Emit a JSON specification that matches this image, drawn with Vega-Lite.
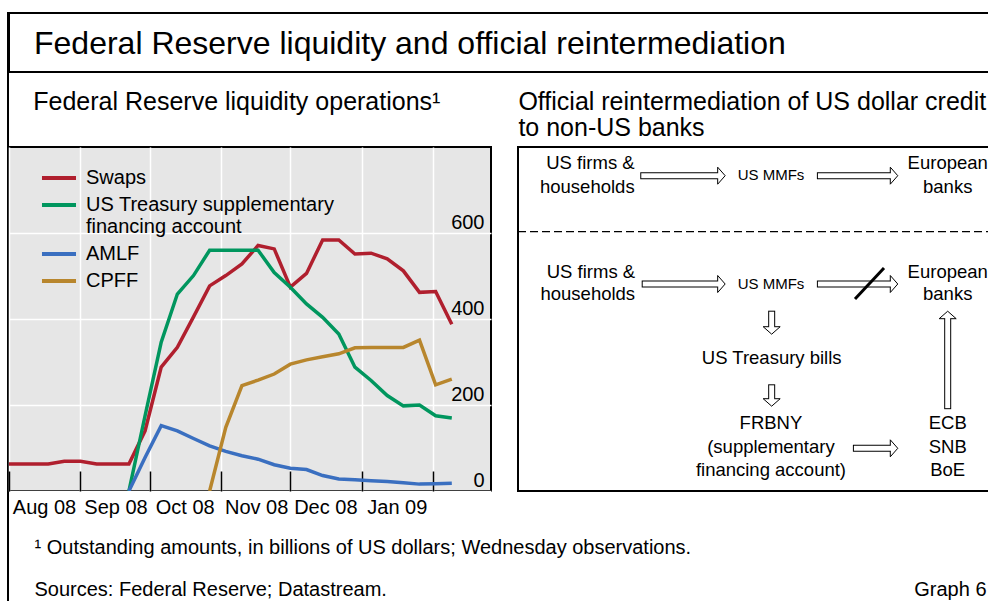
{
  "$schema": "https://vega.github.io/schema/vega-lite/v6.json",
  "padding": {"left": 7, "top": 12, "right": 0, "bottom": 0},
  "background": "white",
  "config": {
    "font": "Liberation Sans",
    "view": {"stroke": "black", "strokeWidth": 2},
    "title": {"fontWeight": "normal", "color": "black", "anchor": "start", "baseline": "alphabetic", "font": "Liberation Sans"},
    "axis": {"labelFont": "Liberation Sans", "labelColor": "black", "titleFont": "Liberation Sans", "titleColor": "black", "titleFontWeight": "normal"},
    "legend": {"labelFont": "Liberation Sans", "labelColor": "black"},
    "text": {"font": "Liberation Sans", "color": "black"}
  },
  "datasets": {
    "blank": [{"t": "", "p": 0}],
    "series": [
      {"date": "2008/07/28", "series": "Swaps", "value": 63},
      {"date": "2008/08/04", "series": "Swaps", "value": 63},
      {"date": "2008/08/11", "series": "Swaps", "value": 63},
      {"date": "2008/08/18", "series": "Swaps", "value": 63},
      {"date": "2008/08/25", "series": "Swaps", "value": 69},
      {"date": "2008/09/01", "series": "Swaps", "value": 69},
      {"date": "2008/09/08", "series": "Swaps", "value": 63},
      {"date": "2008/09/15", "series": "Swaps", "value": 63},
      {"date": "2008/09/22", "series": "Swaps", "value": 63},
      {"date": "2008/09/29", "series": "Swaps", "value": 140},
      {"date": "2008/10/06", "series": "Swaps", "value": 288},
      {"date": "2008/10/13", "series": "Swaps", "value": 334},
      {"date": "2008/10/20", "series": "Swaps", "value": 405},
      {"date": "2008/10/27", "series": "Swaps", "value": 477},
      {"date": "2008/11/03", "series": "Swaps", "value": 501},
      {"date": "2008/11/10", "series": "Swaps", "value": 528},
      {"date": "2008/11/17", "series": "Swaps", "value": 571},
      {"date": "2008/11/24", "series": "Swaps", "value": 563},
      {"date": "2008/12/01", "series": "Swaps", "value": 474},
      {"date": "2008/12/08", "series": "Swaps", "value": 506},
      {"date": "2008/12/15", "series": "Swaps", "value": 584},
      {"date": "2008/12/22", "series": "Swaps", "value": 584},
      {"date": "2008/12/29", "series": "Swaps", "value": 551},
      {"date": "2009/01/05", "series": "Swaps", "value": 553},
      {"date": "2009/01/12", "series": "Swaps", "value": 540},
      {"date": "2009/01/19", "series": "Swaps", "value": 512},
      {"date": "2009/01/26", "series": "Swaps", "value": 462},
      {"date": "2009/02/02", "series": "Swaps", "value": 464},
      {"date": "2009/02/09", "series": "Swaps", "value": 388},
      {"date": "2008/09/22", "series": "US Treasury supplementary financing account", "value": 0},
      {"date": "2008/09/29", "series": "US Treasury supplementary financing account", "value": 175},
      {"date": "2008/10/06", "series": "US Treasury supplementary financing account", "value": 346},
      {"date": "2008/10/13", "series": "US Treasury supplementary financing account", "value": 458},
      {"date": "2008/10/20", "series": "US Treasury supplementary financing account", "value": 501},
      {"date": "2008/10/27", "series": "US Treasury supplementary financing account", "value": 560},
      {"date": "2008/11/03", "series": "US Treasury supplementary financing account", "value": 560},
      {"date": "2008/11/10", "series": "US Treasury supplementary financing account", "value": 560},
      {"date": "2008/11/17", "series": "US Treasury supplementary financing account", "value": 560},
      {"date": "2008/11/24", "series": "US Treasury supplementary financing account", "value": 508},
      {"date": "2008/12/01", "series": "US Treasury supplementary financing account", "value": 474},
      {"date": "2008/12/08", "series": "US Treasury supplementary financing account", "value": 435},
      {"date": "2008/12/15", "series": "US Treasury supplementary financing account", "value": 404},
      {"date": "2008/12/22", "series": "US Treasury supplementary financing account", "value": 365},
      {"date": "2008/12/29", "series": "US Treasury supplementary financing account", "value": 288},
      {"date": "2009/01/05", "series": "US Treasury supplementary financing account", "value": 257},
      {"date": "2009/01/12", "series": "US Treasury supplementary financing account", "value": 222},
      {"date": "2009/01/19", "series": "US Treasury supplementary financing account", "value": 198},
      {"date": "2009/01/26", "series": "US Treasury supplementary financing account", "value": 200},
      {"date": "2009/02/02", "series": "US Treasury supplementary financing account", "value": 175},
      {"date": "2009/02/09", "series": "US Treasury supplementary financing account", "value": 170},
      {"date": "2008/09/22", "series": "AMLF", "value": 0},
      {"date": "2008/09/29", "series": "AMLF", "value": 78},
      {"date": "2008/10/06", "series": "AMLF", "value": 152},
      {"date": "2008/10/13", "series": "AMLF", "value": 140},
      {"date": "2008/10/20", "series": "AMLF", "value": 122},
      {"date": "2008/10/27", "series": "AMLF", "value": 105},
      {"date": "2008/11/03", "series": "AMLF", "value": 92},
      {"date": "2008/11/10", "series": "AMLF", "value": 82},
      {"date": "2008/11/17", "series": "AMLF", "value": 74},
      {"date": "2008/11/24", "series": "AMLF", "value": 61},
      {"date": "2008/12/01", "series": "AMLF", "value": 53},
      {"date": "2008/12/08", "series": "AMLF", "value": 50},
      {"date": "2008/12/15", "series": "AMLF", "value": 36},
      {"date": "2008/12/22", "series": "AMLF", "value": 28},
      {"date": "2008/12/29", "series": "AMLF", "value": 26},
      {"date": "2009/01/05", "series": "AMLF", "value": 24},
      {"date": "2009/01/12", "series": "AMLF", "value": 22},
      {"date": "2009/01/19", "series": "AMLF", "value": 19},
      {"date": "2009/01/26", "series": "AMLF", "value": 16},
      {"date": "2009/02/02", "series": "AMLF", "value": 17},
      {"date": "2009/02/09", "series": "AMLF", "value": 18},
      {"date": "2008/10/27", "series": "CPFF", "value": 0},
      {"date": "2008/11/03", "series": "CPFF", "value": 148},
      {"date": "2008/11/10", "series": "CPFF", "value": 245},
      {"date": "2008/11/17", "series": "CPFF", "value": 258},
      {"date": "2008/11/24", "series": "CPFF", "value": 272},
      {"date": "2008/12/01", "series": "CPFF", "value": 295},
      {"date": "2008/12/08", "series": "CPFF", "value": 305},
      {"date": "2008/12/15", "series": "CPFF", "value": 312},
      {"date": "2008/12/22", "series": "CPFF", "value": 319},
      {"date": "2008/12/29", "series": "CPFF", "value": 333},
      {"date": "2009/01/05", "series": "CPFF", "value": 334},
      {"date": "2009/01/12", "series": "CPFF", "value": 334},
      {"date": "2009/01/19", "series": "CPFF", "value": 334},
      {"date": "2009/01/26", "series": "CPFF", "value": 351},
      {"date": "2009/02/02", "series": "CPFF", "value": 247},
      {"date": "2009/02/09", "series": "CPFF", "value": 260}
    ],
    "arrows": [
      {"tx": 26.2, "ty": 8.34, "bx": 41.6, "by": 8.34, "dir": "right"},
      {"tx": 63.0, "ty": 8.34, "bx": 77.56, "by": 8.34, "dir": "right"},
      {"tx": 26.5, "ty": 39.83, "bx": 41.6, "by": 39.83, "dir": "right"},
      {"tx": 63.0, "ty": 39.83, "bx": 77.56, "by": 39.83, "dir": "right"},
      {"tx": 52.85, "ty": 48.6, "bx": 52.85, "by": 52.24, "dir": "down"},
      {"tx": 52.85, "ty": 70.0, "bx": 52.85, "by": 73.17, "dir": "down"},
      {"tx": 70.5, "ty": 87.59, "bx": 77.56, "by": 87.59, "dir": "right"},
      {"tx": 89.52, "ty": 75.2, "bx": 89.52, "by": 49.91, "dir": "up"}
    ],
    "strokes": [
      {"kind": "slash", "x": 70.21, "y": 44.19, "x2": 76.25, "y2": 35.17},
      {"kind": "divider", "x": 0, "y": 24.62, "x2": 100, "y2": 24.62}
    ],
    "labels": [
      {"role": "right", "text": "US firms &", "x": 24.3, "y": 4.74},
      {"role": "right", "text": "households", "x": 24.3, "y": 11.54},
      {"role": "right", "text": "US firms &", "x": 24.4, "y": 36.25},
      {"role": "right", "text": "households", "x": 24.4, "y": 42.73},
      {"role": "small", "text": "US MMFs", "x": 52.7, "y": 8.14},
      {"role": "small", "text": "US MMFs", "x": 52.7, "y": 39.83},
      {"role": "center", "text": "European", "x": 89.52, "y": 4.74},
      {"role": "center", "text": "banks", "x": 89.52, "y": 11.54},
      {"role": "center", "text": "European", "x": 89.52, "y": 36.25},
      {"role": "center", "text": "banks", "x": 89.52, "y": 42.73},
      {"role": "center", "text": "US Treasury bills", "x": 52.85, "y": 61.42},
      {"role": "center", "text": "FRBNY", "x": 52.7, "y": 80.32},
      {"role": "center", "text": "(supplementary", "x": 52.7, "y": 87.12},
      {"role": "center", "text": "financing account)", "x": 52.7, "y": 93.9},
      {"role": "center", "text": "ECB", "x": 89.52, "y": 80.32},
      {"role": "center", "text": "SNB", "x": 89.52, "y": 87.12},
      {"role": "center", "text": "BoE", "x": 89.52, "y": 93.9}
    ]
  },
  "spacing": 0,
  "bounds": "flush",
  "resolve": {"legend": {"color": "independent"}},
  "hconcat": [
    {
      "width": 0.01,
      "height": 588,
      "data": {"name": "blank"},
      "mark": "text",
      "encoding": {
        "x": {"field": "p", "type": "quantitative", "axis": null},
        "y": {"field": "p", "type": "quantitative", "axis": null},
        "text": {"field": "t"}
      }
    },
    {
      "spacing": 75,
      "bounds": "flush",
      "resolve": {"legend": {"color": "independent"}},
      "vconcat": [
        {
          "width": 990,
          "height": 59,
          "title": {"text": "Federal Reserve liquidity and official reintermediation", "fontSize": 32, "offset": -48, "dx": 25},
          "data": {"name": "blank"},
          "mark": "text",
          "encoding": {
            "x": {"field": "p", "type": "quantitative", "axis": null},
            "y": {"field": "p", "type": "quantitative", "axis": null},
            "text": {"field": "t"}
          }
        },
        {
          "spacing": 27,
          "bounds": "flush",
          "resolve": {"legend": {"color": "independent"}},
          "hconcat": [
            {
              "width": 482,
              "height": 344,
              "view": {"fill": "#e6e6e6", "stroke": "black", "strokeWidth": 2},
              "title": {"text": "Federal Reserve liquidity operations¹", "fontSize": 25, "offset": 32, "dx": 25},
              "data": {"name": "series"},
              "mark": {"type": "line", "strokeWidth": 3.5, "clip": true},
              "encoding": {
                "x": {
                  "field": "date", "type": "temporal",
                  "scale": {"domain": [{"year": 2008, "month": 8, "date": 1}, {"year": 2009, "month": 2, "date": 26}]},
                  "axis": {
                    "values": [
                      {"year": 2008, "month": 8, "date": 1}, {"year": 2008, "month": 9, "date": 1},
                      {"year": 2008, "month": 10, "date": 1}, {"year": 2008, "month": 11, "date": 1},
                      {"year": 2008, "month": 12, "date": 1}, {"year": 2009, "month": 1, "date": 1},
                      {"year": 2009, "month": 2, "date": 1}
                    ],
                    "labelExpr": "month(datum.value) == 1 ? '' : timeFormat(datum.value, '%b %y')",
                    "labelOffset": 35, "labelAlign": "center", "labelFontSize": 20,
                    "labelPadding": 26, "labelFlush": false, "labelOverlap": false, "labelBound": false,
                    "ticks": true, "tickSize": -20, "tickColor": "black", "tickWidth": 1.5,
                    "grid": true, "gridColor": "white", "gridWidth": 1.5, "domain": false,
                    "title": ["¹  Outstanding amounts, in billions of US dollars; Wednesday observations.", "Sources: Federal Reserve; Datastream."],
                    "titleFontSize": 20, "titleAlign": "left", "titleAnchor": "start", "titleBaseline": "alphabetic",
                    "titleX": 25, "titleY": 62, "titleLineHeight": 42
                  }
                },
                "y": {
                  "field": "value", "type": "quantitative",
                  "scale": {"domain": [0, 800], "nice": false},
                  "axis": {
                    "orient": "right", "values": [0, 200, 400, 600],
                    "labelAlign": "right", "labelPadding": -7, "labelBaseline": "alphabetic", "labelOffset": -5,
                    "labelFontSize": 20, "labelFlush": false, "labelOverlap": false, "labelBound": false,
                    "ticks": false, "domain": false, "grid": true, "gridColor": "white", "gridWidth": 1.5,
                    "title": "Graph 6", "titleAngle": 0, "titleAlign": "right", "titleBaseline": "alphabetic",
                    "titleFontSize": 20, "titleX": 495, "titleY": 448
                  }
                },
                "color": {
                  "field": "series", "type": "nominal",
                  "scale": {
                    "domain": ["Swaps", "US Treasury supplementary financing account", "AMLF", "CPFF"],
                    "range": ["#b01f2e", "#00965e", "#3a6fc0", "#b8862d"]
                  },
                  "legend": {
                    "orient": "none", "legendX": 40, "legendY": 21, "title": null,
                    "symbolType": "M -2.43 0 L 2.43 0", "symbolSize": 196, "symbolStrokeWidth": 4,
                    "labelFontSize": 20, "labelOffset": 17, "labelLimit": 500, "rowPadding": 7,
                    "labelExpr": "datum.label == 'US Treasury supplementary financing account' ? ['US Treasury supplementary', 'financing account'] : datum.label"
                  }
                }
              }
            },
            {
              "width": 480,
              "height": 344,
              "title": {"text": ["Official reintermediation of US dollar credit", "to non-US banks"], "fontSize": 25, "lineHeight": 26, "offset": 6, "dx": 1},
              "layer": [
                {
                  "data": {"name": "arrows"},
                  "mark": {"type": "rule", "color": "black", "strokeWidth": 7, "strokeCap": "square"},
                  "encoding": {
                    "x": {"field": "tx", "type": "quantitative", "scale": {"domain": [0, 100], "nice": false}, "axis": null},
                    "y": {"field": "ty", "type": "quantitative", "scale": {"domain": [0, 100], "nice": false, "reverse": true}, "axis": null},
                    "x2": {"field": "bx"},
                    "y2": {"field": "by"}
                  }
                },
                {
                  "data": {"name": "arrows"},
                  "transform": [{"filter": "datum.dir == 'right'"}],
                  "mark": {"type": "point", "shape": "M 0 -1 L 0.88 0 L 0 1 Z", "size": 289, "filled": true, "fill": "white", "stroke": "black", "strokeWidth": 1, "opacity": 1, "angle": 0},
                  "encoding": {
                    "x": {"field": "bx", "type": "quantitative"},
                    "y": {"field": "by", "type": "quantitative"}
                  }
                },
                {
                  "data": {"name": "arrows"},
                  "transform": [{"filter": "datum.dir == 'down'"}],
                  "mark": {"type": "point", "shape": "M 0 -1 L 0.88 0 L 0 1 Z", "size": 289, "filled": true, "fill": "white", "stroke": "black", "strokeWidth": 1, "opacity": 1, "angle": 90},
                  "encoding": {
                    "x": {"field": "bx", "type": "quantitative"},
                    "y": {"field": "by", "type": "quantitative"}
                  }
                },
                {
                  "data": {"name": "arrows"},
                  "transform": [{"filter": "datum.dir == 'up'"}],
                  "mark": {"type": "point", "shape": "M 0 -1 L 0.88 0 L 0 1 Z", "size": 289, "filled": true, "fill": "white", "stroke": "black", "strokeWidth": 1, "opacity": 1, "angle": 270},
                  "encoding": {
                    "x": {"field": "bx", "type": "quantitative"},
                    "y": {"field": "by", "type": "quantitative"}
                  }
                },
                {
                  "data": {"name": "arrows"},
                  "mark": {"type": "rule", "color": "white", "strokeWidth": 5, "strokeCap": "square"},
                  "encoding": {
                    "x": {"field": "tx", "type": "quantitative"},
                    "y": {"field": "ty", "type": "quantitative"},
                    "x2": {"field": "bx"},
                    "y2": {"field": "by"}
                  }
                },
                {
                  "data": {"name": "strokes"},
                  "transform": [{"filter": "datum.kind == 'slash'"}],
                  "mark": {"type": "rule", "color": "black", "strokeWidth": 3},
                  "encoding": {
                    "x": {"field": "x", "type": "quantitative"},
                    "y": {"field": "y", "type": "quantitative"},
                    "x2": {"field": "x2"},
                    "y2": {"field": "y2"}
                  }
                },
                {
                  "data": {"name": "strokes"},
                  "transform": [{"filter": "datum.kind == 'divider'"}],
                  "mark": {"type": "rule", "color": "black", "strokeWidth": 1.2, "strokeDash": [8, 4]},
                  "encoding": {
                    "x": {"field": "x", "type": "quantitative"},
                    "y": {"field": "y", "type": "quantitative"},
                    "x2": {"field": "x2"},
                    "y2": {"field": "y2"}
                  }
                },
                {
                  "data": {"name": "labels"},
                  "transform": [{"filter": "datum.role == 'right'"}],
                  "mark": {"type": "text", "align": "right", "baseline": "middle", "fontSize": 18.5},
                  "encoding": {
                    "x": {"field": "x", "type": "quantitative"},
                    "y": {"field": "y", "type": "quantitative"},
                    "text": {"field": "text"}
                  }
                },
                {
                  "data": {"name": "labels"},
                  "transform": [{"filter": "datum.role == 'center'"}],
                  "mark": {"type": "text", "align": "center", "baseline": "middle", "fontSize": 18.5},
                  "encoding": {
                    "x": {"field": "x", "type": "quantitative"},
                    "y": {"field": "y", "type": "quantitative"},
                    "text": {"field": "text"}
                  }
                },
                {
                  "data": {"name": "labels"},
                  "transform": [{"filter": "datum.role == 'small'"}],
                  "mark": {"type": "text", "align": "center", "baseline": "middle", "fontSize": 15},
                  "encoding": {
                    "x": {"field": "x", "type": "quantitative"},
                    "y": {"field": "y", "type": "quantitative"},
                    "text": {"field": "text"}
                  }
                }
              ]
            }
          ]
        }
      ]
    }
  ]
}
